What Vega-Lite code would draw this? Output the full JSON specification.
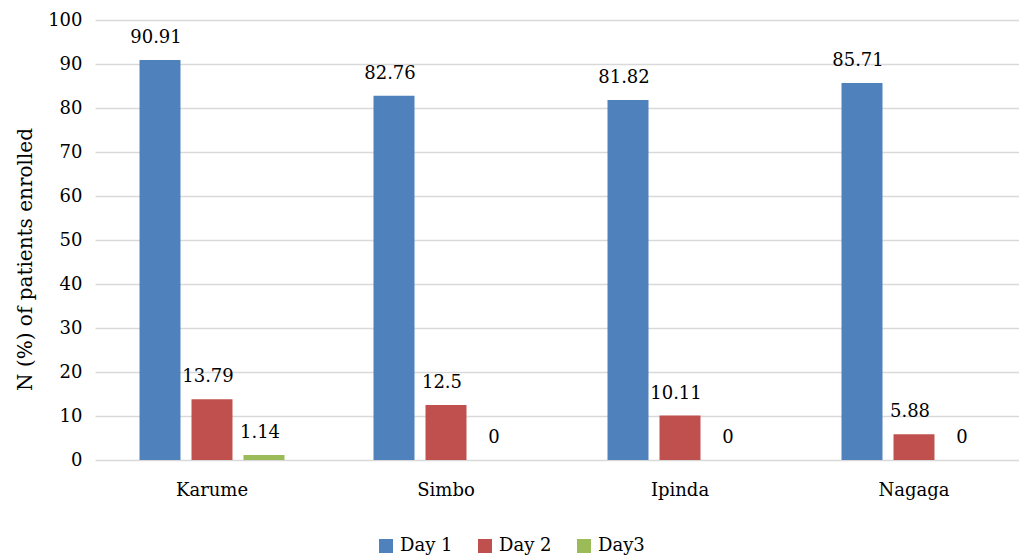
{
  "$schema": "https://vega.github.io/schema/vega-lite/v6.json",
  "width": 936,
  "height": 440,
  "autosize": {"type": "none"},
  "padding": {"left": 95, "top": 20, "right": 0, "bottom": 99},
  "background": "white",
  "config": {
    "view": {"stroke": null},
    "font": "DejaVu Serif",
    "text": {"font": "DejaVu Serif"}
  },
  "data": {
    "values": [
      {"site": "Karume", "day": "Day 1", "value": 90.91},
      {"site": "Karume", "day": "Day 2", "value": 13.79},
      {"site": "Karume", "day": "Day3", "value": 1.14},
      {"site": "Simbo", "day": "Day 1", "value": 82.76},
      {"site": "Simbo", "day": "Day 2", "value": 12.5},
      {"site": "Simbo", "day": "Day3", "value": 0},
      {"site": "Ipinda", "day": "Day 1", "value": 81.82},
      {"site": "Ipinda", "day": "Day 2", "value": 10.11},
      {"site": "Ipinda", "day": "Day3", "value": 0},
      {"site": "Nagaga", "day": "Day 1", "value": 85.71},
      {"site": "Nagaga", "day": "Day 2", "value": 5.88},
      {"site": "Nagaga", "day": "Day3", "value": 0}
    ]
  },
  "encoding": {
    "x": {
      "field": "site",
      "type": "nominal",
      "sort": ["Karume", "Simbo", "Ipinda", "Nagaga"],
      "scale": {"paddingInner": 0, "paddingOuter": 0},
      "axis": {
        "title": null,
        "labelAngle": 0,
        "ticks": false,
        "domain": false,
        "grid": false,
        "labelPadding": 21,
        "labelFontSize": 18,
        "labelColor": "#000000",
        "labelDx": -5
      }
    },
    "xOffset": {
      "field": "day",
      "type": "nominal",
      "sort": ["Day 1", "Day 2", "Day3"],
      "scale": {"paddingInner": 0.2115, "paddingOuter": 0.856}
    },
    "y": {
      "field": "value",
      "type": "quantitative",
      "scale": {"domain": [0, 100]},
      "axis": {
        "title": "N (%) of patients enrolled",
        "titleFontSize": 20,
        "titleFontWeight": "normal",
        "titleColor": "#000000",
        "titleAngle": -90,
        "titleBaseline": "alphabetic",
        "titleX": -64,
        "titleY": 239,
        "values": [0, 10, 20, 30, 40, 50, 60, 70, 80, 90, 100],
        "labelFontSize": 18,
        "labelColor": "#000000",
        "labelPadding": 13,
        "ticks": false,
        "domain": false,
        "gridColor": "#D9D9D9",
        "gridWidth": 1.5
      }
    }
  },
  "layer": [
    {
      "mark": {"type": "bar"},
      "encoding": {
        "color": {
          "field": "day",
          "type": "nominal",
          "sort": ["Day 1", "Day 2", "Day3"],
          "scale": {
            "domain": ["Day 1", "Day 2", "Day3"],
            "range": ["#4F81BD", "#C0504D", "#9BBB59"]
          },
          "legend": {
            "title": null,
            "orient": "none",
            "direction": "horizontal",
            "legendX": 282,
            "legendY": 517,
            "symbolType": "square",
            "symbolSize": 196,
            "symbolStrokeWidth": 0,
            "symbolOpacity": 1,
            "labelFontSize": 18,
            "labelColor": "#000000",
            "labelOffset": 5,
            "columnPadding": 23,
            "padding": 0
          }
        }
      }
    },
    {
      "mark": {
        "type": "text",
        "baseline": "alphabetic",
        "dy": -17,
        "dx": -4,
        "fontSize": 18,
        "color": "#000000"
      },
      "encoding": {
        "text": {"field": "value", "type": "quantitative", "format": "~g"}
      }
    }
  ]
}
